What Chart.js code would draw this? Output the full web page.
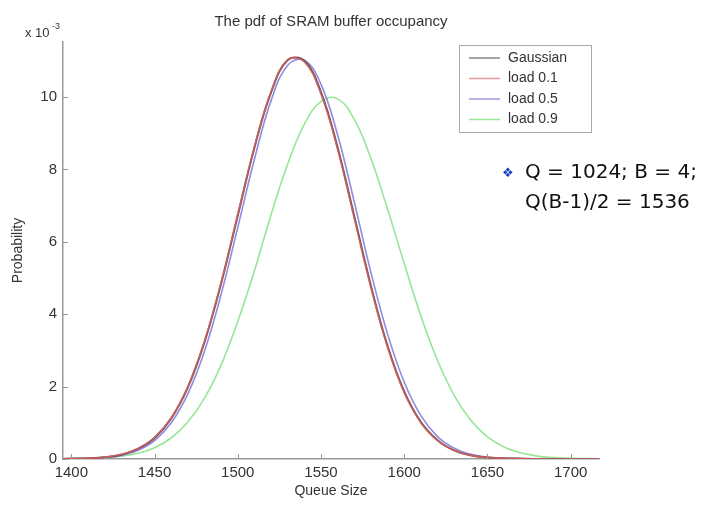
<!DOCTYPE html>
<html>
<head>
<meta charset="utf-8">
<script src="https://cdn.jsdelivr.net/npm/chart.js@4"></script>
<style>
  html, body { margin: 0; padding: 0; background: #fff; }
  #wrap { width: 703px; height: 506px; }
</style>
</head>
<body>
<div id="wrap"><canvas id="pdfChart" width="703" height="506"></canvas></div>
<script>
// Queue size samples (x axis)
const queueSize = [1395, 1400, 1410, 1420, 1430, 1440, 1450, 1460, 1470, 1480, 1490, 1500, 1510, 1520, 1530, 1540,
  1550, 1560, 1570, 1580, 1590, 1600, 1610, 1620, 1630, 1640, 1650, 1660, 1670, 1680, 1690, 1700, 1710, 1717];

// Probability values, in units of 10^-3
const gaussian = [0, 0.01, 0.02, 0.05, 0.12, 0.28, 0.58, 1.12, 1.98, 3.23, 4.85, 6.73, 8.60, 10.13, 11.02, 11.00,
  10.13, 8.60, 6.70, 4.78, 3.12, 1.86, 1.02, 0.52, 0.24, 0.10, 0.04, 0.02, 0.01, 0, 0, 0, 0, 0];
const load01 = [0, 0.01, 0.02, 0.05, 0.13, 0.29, 0.60, 1.14, 2.00, 3.25, 4.88, 6.76, 8.62, 10.15, 11.03, 10.97,
  10.08, 8.55, 6.64, 4.73, 3.08, 1.83, 1.00, 0.51, 0.24, 0.10, 0.04, 0.02, 0.01, 0, 0, 0, 0, 0];
const load05 = [0, 0.01, 0.02, 0.04, 0.10, 0.24, 0.51, 1.00, 1.80, 2.98, 4.55, 6.40, 8.28, 9.90, 10.88, 11.02,
  10.35, 8.95, 7.10, 5.15, 3.45, 2.12, 1.20, 0.62, 0.30, 0.13, 0.05, 0.02, 0.01, 0, 0, 0, 0, 0];
const load09 = [0.01, 0.01, 0.02, 0.04, 0.08, 0.16, 0.31, 0.58, 1.02, 1.68, 2.60, 3.80, 5.20, 6.75, 8.15, 9.25,
  9.88, 9.95, 9.38, 8.30, 6.90, 5.40, 3.95, 2.72, 1.76, 1.07, 0.61, 0.33, 0.17, 0.08, 0.04, 0.02, 0.01, 0];

const seriesLabels = ['Gaussian', 'load 0.1', 'load 0.5', 'load 0.9'];
const xTicks = [1400, 1450, 1500, 1550, 1600, 1650, 1700];
const yTicks = [0, 2, 4, 6, 8, 10];

const lineColors = ['#6a5050', 'rgba(215,95,95,0.85)', '#8c8ce6', '#96e696'];
const FONT = '"Liberation Sans", Arial, sans-serif';

const toPoints = (ys) => ys.map((y, i) => ({ x: queueSize[i], y: y }));

// Draws the extra MATLAB-style pieces: inner ticks, title, exponent, boxed legend, note
const overlayPlugin = {
  id: 'overlay',
  afterDraw(chart) {
    const ctx = chart.ctx;
    const area = chart.chartArea;
    const xs = chart.scales.x, ys = chart.scales.y;
    ctx.save();

    // inner tick marks
    ctx.strokeStyle = '#999';
    ctx.lineWidth = 1;
    ctx.beginPath();
    xTicks.forEach(v => {
      const px = Math.round(xs.getPixelForValue(v)) + 0.5;
      ctx.moveTo(px, area.bottom);
      ctx.lineTo(px, area.bottom - 5);
    });
    yTicks.forEach(v => {
      const py = Math.round(ys.getPixelForValue(v)) + 0.5;
      ctx.moveTo(area.left, py);
      ctx.lineTo(area.left + 5, py);
    });
    ctx.stroke();

    // title
    ctx.fillStyle = '#333';
    ctx.font = '15px ' + FONT;
    ctx.textAlign = 'center';
    ctx.textBaseline = 'middle';
    ctx.fillText('The pdf of SRAM buffer occupancy', (area.left + area.right) / 2, 22);

    // exponent
    ctx.textAlign = 'left';
    ctx.font = '13px ' + FONT;
    ctx.fillText('x 10', 25, 33);
    ctx.font = '9px ' + FONT;
    ctx.fillText('-3', 52, 27);

    // legend box
    const lx = 459, ly = 45, lw = 132, lh = 87;
    ctx.fillStyle = '#fff';
    ctx.fillRect(lx, ly, lw, lh);
    ctx.strokeStyle = '#aaa';
    ctx.lineWidth = 1;
    ctx.strokeRect(lx + 0.5, ly + 0.5, lw, lh);
    ctx.font = '14px ' + FONT;
    ctx.textBaseline = 'middle';
    const legendColors = ['#888', '#e89a9a', '#9a9ae0', '#9ae89a'];
    chart.data.datasets.forEach((ds, i) => {
      const ry = 58 + i * 20.5;
      ctx.strokeStyle = legendColors[i];
      ctx.lineWidth = 1.5;
      ctx.beginPath();
      ctx.moveTo(469, ry);
      ctx.lineTo(500, ry);
      ctx.stroke();
      ctx.fillStyle = '#333';
      ctx.fillText(ds.label, 508, ry);
    });

    // note on the right
    ctx.fillStyle = '#1a3fc0';
    ctx.font = '13px "DejaVu Sans", sans-serif';
    ctx.fillText('\u2756', 502, 174);
    ctx.fillStyle = '#111';
    ctx.font = '20px "DejaVu Sans", sans-serif';
    ctx.fillText('Q = 1024; B = 4;', 525, 173);
    ctx.fillText('Q(B-1)/2 = 1536', 525, 203);

    ctx.restore();
  }
};

const datasets = [gaussian, load01, load05, load09].map((ys, i) => ({
  label: seriesLabels[i],
  data: toPoints(ys),
  borderColor: lineColors[i],
  borderWidth: i === 0 ? 2 : 1.6,
  pointRadius: 0,
  tension: 0.4,
  fill: false,
  order: i === 0 ? 2 : (i === 1 ? 1 : 3),
}));

const pdfCanvas = document.getElementById('pdfChart').getContext('2d');
new Chart(pdfCanvas, {
  type: 'line',
  data: { datasets: datasets },
  options: {
    responsive: false,
    animation: false,
    layout: { padding: { left: 0, right: 104, top: 42, bottom: 0 } },
    plugins: {
      legend: { display: false },
      title: { display: false },
      tooltip: { enabled: false },
    },
    scales: {
      x: {
        type: 'linear',
        min: 1395,
        max: 1717,
        afterFit: (scale) => { scale.height = 47; },
        afterBuildTicks: (scale) => { scale.ticks = xTicks.map(v => ({ value: v })); },
        grid: { display: true, drawOnChartArea: false, drawTicks: false },
        border: { display: true, color: '#999', width: 1.5 },
        ticks: {
          padding: 5,
          color: '#333',
          font: { family: FONT, size: 15 },
          maxRotation: 0,
          autoSkip: false,
          callback: (v) => String(v),
        },
        title: {
          display: true,
          text: 'Queue Size',
          color: '#333',
          font: { family: FONT, size: 14 },
          padding: { top: 0, bottom: 6 },
        },
      },
      y: {
        min: 0,
        max: 11.52,
        afterFit: (scale) => { scale.width = 63; },
        afterBuildTicks: (scale) => { scale.ticks = yTicks.map(v => ({ value: v })); },
        grid: { display: true, drawOnChartArea: false, drawTicks: false },
        border: { display: true, color: '#999', width: 1.5 },
        ticks: {
          padding: 6,
          color: '#333',
          font: { family: FONT, size: 15 },
          callback: (v) => String(v),
        },
        title: {
          display: true,
          text: 'Probability',
          color: '#333',
          font: { family: FONT, size: 14 },
          padding: { top: 10, bottom: 0 },
        },
      },
    },
  },
  plugins: [overlayPlugin],
});
</script>
</body>
</html>
